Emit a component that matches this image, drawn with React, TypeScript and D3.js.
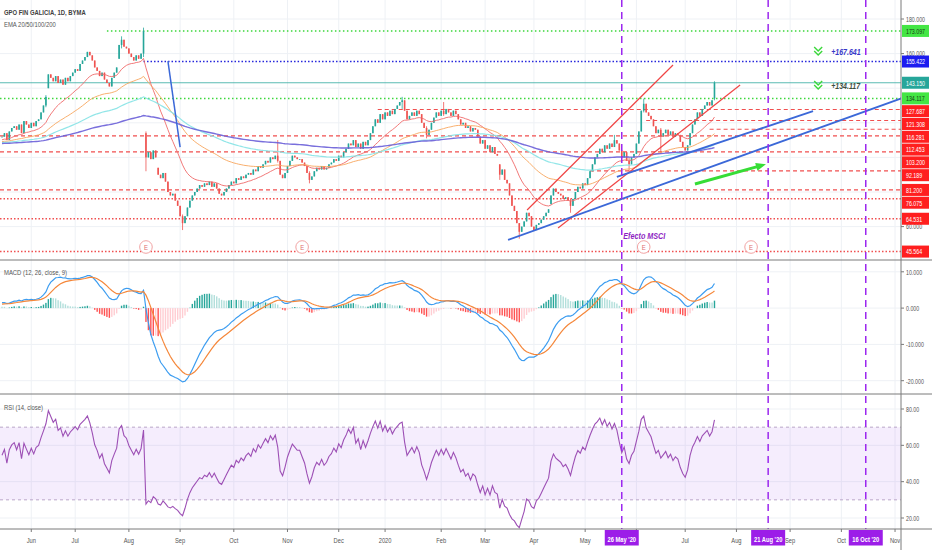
import React from 'react';
import * as d3 from 'd3';

// daily closes (one value per session)
const closesMay19 = [112, 114, 110, 115, 117, 118, 116, 119, 114, 121, 119, 117, 120, 118, 121, 122, 126, 130, 135];
const closesJunAug19 = [148, 146, 144, 147, 143, 145, 142, 146, 144, 147, 149, 151, 150, 154, 156, 158, 161, 159, 156,
  152, 150, 147, 149, 145, 143, 141, 146, 149, 152, 165, 168, 164, 163, 160, 158, 156, 159, 157, 160, 173];
const closesAugNov19 = [100, 103, 99, 104, 100, 90, 88, 91, 86, 80, 78, 79, 75, 72, 66, 62, 66, 71, 75, 78, 80,
  82, 84, 83, 85, 84, 86, 83, 85, 82, 79, 78, 80, 82, 84, 86, 85, 88, 87, 89, 88, 90,
  91, 90, 93, 92, 95, 94, 96, 98, 97, 100, 99, 101, 98, 90, 88, 91, 95, 98, 101, 100, 99];
const closesNov19Feb20 = [99, 97, 95, 91, 87, 89, 92, 94, 93, 95, 93, 94, 96, 97, 99, 98, 101, 100, 103,
  105, 108, 107, 110, 106, 108, 105, 109, 107, 110, 114, 118, 122, 120, 125, 122, 126, 124, 127, 125, 128, 130, 132,
  133, 127, 122, 124, 126, 124, 127, 125, 120, 117, 113, 116, 120, 123, 126, 124, 127, 125, 128, 126, 124, 127, 125,
  122, 119, 120, 117, 118, 115, 117, 116, 112, 108, 110, 105, 107, 103, 106, 102, 101];
const closesMarJul20 = [90, 93, 87, 85, 78, 72, 69, 62, 57, 60, 63, 68, 66, 60, 58, 61, 62, 64, 66, 68, 70,
  78, 82, 80, 79, 78, 76, 77, 75, 72, 76, 80, 83, 82, 85, 84, 88, 92, 96, 100, 102,
  105, 103, 107, 105, 108, 106, 110, 108, 104, 100, 103, 98, 96, 100, 102, 108, 115, 127, 131,
  126, 124, 122, 118, 114, 116, 112, 114, 116, 113, 115, 112, 114, 113, 109, 106, 104, 107, 114, 119,
  122, 126, 124, 128, 130, 132, 130, 133, 143.15];

// sessions that opened away from the prior close: [session, open]
const gapOpens: [number, number][] = [[19, 140], [48, 157], [59, 114], [64, 94], [204, 96], [225, 73], [292, 134]];
// visible wicks: [session, high, low]
const wicks: [number, number, number][] = [[18, 136, 129], [49, 170, 163], [58, 175, 158], [59, 115, 92], [74, 67, 58],
  [113, 110, 97], [126, 92, 85], [164, 135, 128], [174, 118, 111], [181, 132, 124], [204, 96, 87], [212, 62, 53],
  [233, 76, 68], [251, 113, 106], [257, 100, 92], [263, 134, 126], [270, 117, 102], [292, 144, 133]];

const monthTicks: [string, number][] = [['Jun', 12], ['Jul', 30], ['Aug', 52], ['Sep', 73], ['Oct', 95], ['Nov', 117],
  ['Dec', 138], ['2020', 157], ['Feb', 180], ['Mar', 198], ['Apr', 218], ['May', 239], ['Jun', 260], ['Jul', 280],
  ['Aug', 301], ['Sep', 323], ['Oct', 344], ['Nov', 366]];
const markedDates: [string, number][] = [["26 May '20", 254], ["21 Aug '20", 314], ["16 Oct '20", 354]];
const earnings = [59, 123, 263, 307];

const levelValues = [173.097, 155.422, 143.15, 134.117, 127.687, 121.308, 116.281, 112.453, 103.2, 92.189, 81.2, 76.075, 64.531, 45.564];
const levelKinds = ['target', 'stop', 'last', 'target', 'res', 'res', 'res', 'res', 'res', 'res', 'res', 'sup', 'sup', 'sup'];
const levelStarts = [43, 58, 0, 0, 154, 264, 290, 0, 0, 241, 0, 0, 0, 0];

const priceTicks = [180, 160, 140, 120, 100, 80, 60];
const macdTicks = [10, 0, -10, -20];
const rsiTicks = [80, 60, 40, 20];

// drawn trend lines: [session, price] -> [session, price]
const trendLines: { a: [number, number]; b: [number, number]; kind: string }[] = [
  { a: [68, 155.7], b: [73, 106], kind: 'blueThin' },
  { a: [215.2, 69.6], b: [275, 153.4], kind: 'red' },
  { a: [227.9, 59.2], b: [302.5, 141.8], kind: 'red' },
  { a: [207.4, 52.3], b: [372, 135.9], kind: 'blue' },
  { a: [252, 88.7], b: [332.4, 126.8], kind: 'blue' },
];
const arrowFrom: [number, number] = [284, 84.6];
const arrowTo: [number, number] = [311.9, 95.6];
const targetNotes: { i: number; v: number; text: string; color: string }[] = [
  { i: 334.5, v: 160.9, text: '+167.641', color: '#3838c8' },
  { i: 334.5, v: 141.3, text: '+134.117', color: '#3e4e3e' },
];

const FONT = '"Liberation Sans", Arial, sans-serif';
const AXIS_X = 901;

const levelStyle: Record<string, { stroke: string; dash?: string; w: number; box: string; txt: string; op: number }> = {
  target: { stroke: '#3cd83c', dash: '1.5 2.5', w: 1.5, box: '#44e644', txt: '#183818', op: 1 },
  stop: { stroke: '#2626dc', dash: '1.5 2', w: 1.5, box: '#1c1cf0', txt: '#ffffff', op: 1 },
  last: { stroke: '#26a69a', w: 1, box: '#26a69a', txt: '#ffffff', op: 0.75 },
  res: { stroke: '#f03c3c', dash: '4 3', w: 1.1, box: '#ff1f1f', txt: '#ffffff', op: 0.9 },
  sup: { stroke: '#f03c3c', dash: '1.5 2', w: 1.5, box: '#ff1f1f', txt: '#ffffff', op: 0.9 },
};

function ema(src: number[], period: number, seed: number) {
  const a = 2 / (period + 1);
  let p = seed;
  return src.map(v => (p = a * v + (1 - a) * p));
}

const T = ({ x, y, children, size = 8, sx = 0.7, anchor = 'start', fill = '#555', weight = 400, italic = false, dy }: any) => (
  <text transform={`translate(${x},${y}) scale(${sx},1)`} fontSize={size} textAnchor={anchor} fill={fill}
    fontWeight={weight} fontStyle={italic ? 'italic' : 'normal'} fontFamily={FONT} dy={dy}>{children}</text>
);

const App = () => {
  const closes = [...closesMay19, ...closesJunAug19, ...closesAugNov19, ...closesNov19Feb20, ...closesMarJul20];
  const gapMap = new Map(gapOpens);
  const wickMap = new Map(wicks.map(w => [w[0], w]));
  const candles = closes.map((c, i) => {
    const o = gapMap.get(i) ?? (i ? closes[i - 1] : c);
    const w = wickMap.get(i);
    return { o, c, h: Math.max(o, c, w ? w[1] : -Infinity), l: Math.min(o, c, w ? w[2] : Infinity) };
  });

  const x = d3.scaleLinear().domain([0, 366]).range([2, 2 + 366 * 2.44]);
  const yP = d3.scaleLinear().domain([60, 180]).range([226.6, 19]);
  const yM = d3.scaleLinear().domain([-20, 10]).range([380.7, 271.8]);
  const yR = d3.scaleLinear().domain([20, 80]).range([518, 409]);

  const emas = [
    { v: ema(closes, 20, 110), color: '#f06a6a', w: 1 },
    { v: ema(closes, 50, 109), color: '#f7a65e', w: 1 },
    { v: ema(closes, 100, 108.5), color: '#86e3e6', w: 1.2 },
    { v: ema(closes, 200, 108), color: '#6a5fd8', w: 1.4 },
  ];

  const fast = ema(closes, 12, 112);
  const slow = ema(closes, 26, 110.4);
  const macd = fast.map((f, i) => f - slow[i]);
  const signal = ema(macd, 9, 1.0);
  const hist = macd.map((m, i) => m - signal[i]);

  let ag = 1.2, al = 1.0;
  const rsi = closes.map((c, i) => {
    const ch = i ? c - closes[i - 1] : 0;
    ag = (ag * 13 + Math.max(ch, 0)) / 14;
    al = (al * 13 + Math.max(-ch, 0)) / 14;
    return 100 - 100 / (1 + ag / al);
  });

  const lineP = d3.line<number>().x((_, i) => x(i)).y(d => yP(d));
  const lineM = d3.line<number>().x((_, i) => x(i)).y(d => yM(d));
  const lineR = d3.line<number>().x((_, i) => x(i)).y(d => yR(d));

  // right-axis labels, pushed apart like the terminal does
  const labels = levelValues.map((v, k) => ({ v, kind: levelKinds[k], y: yP(v), ly: 0 })).sort((a, b) => a.y - b.y);
  let last = -Infinity;
  labels.forEach(l => { l.ly = Math.max(l.y, last + 12.8); last = l.ly; });
  // plain price ticks mostly hidden behind a coloured label are left out
  const shownTicks = priceTicks.filter(v => labels.every(l => Math.abs(l.ly - yP(v)) >= 7));
  const markerXs = markedDates.map(d => x(d[1]));
  const shownMonths = monthTicks.filter(([, i]) => markerXs.every(mx => Math.abs(mx - x(i)) > 18));

  const grid = '#eef1f5';
  const axisC = '#7a7a7a';
  const purple = '#9c27ef';

  const ang = Math.atan2(yP(arrowTo[1]) - yP(arrowFrom[1]), x(arrowTo[0]) - x(arrowFrom[0]));
  const ax = x(arrowTo[0]), ay = yP(arrowTo[1]);
  const head = [[ax + 3 * Math.cos(ang), ay + 3 * Math.sin(ang)],
    [ax - 7 * Math.cos(ang) + 4 * Math.sin(ang), ay - 7 * Math.sin(ang) - 4 * Math.cos(ang)],
    [ax - 7 * Math.cos(ang) - 4 * Math.sin(ang), ay - 7 * Math.sin(ang) + 4 * Math.cos(ang)]];

  return (
    <div style={{ position: 'absolute', left: 0, top: 0 }}>
      <style>{'body{margin:0}'}</style>
      <svg width={932} height={550} style={{ display: 'block', background: '#fff' }}>
        <defs>
          <clipPath id="cMain"><rect x={0} y={0} width={AXIS_X} height={260} /></clipPath>
          <clipPath id="cMacd"><rect x={0} y={260} width={AXIS_X} height={134} /></clipPath>
          <clipPath id="cRsi"><rect x={0} y={394} width={AXIS_X} height={135} /></clipPath>
        </defs>

        {/* grid */}
        {monthTicks.map(([, i], k) => <line key={'vg' + k} x1={x(i)} x2={x(i)} y1={0} y2={529} stroke={grid} />)}
        {priceTicks.map(v => <line key={'pg' + v} x1={0} x2={AXIS_X} y1={yP(v)} y2={yP(v)} stroke={grid} />)}
        {macdTicks.map(v => <line key={'mg' + v} x1={0} x2={AXIS_X} y1={yM(v)} y2={yM(v)} stroke={grid} />)}
        {rsiTicks.map(v => <line key={'rg' + v} x1={0} x2={AXIS_X} y1={yR(v)} y2={yR(v)} stroke={grid} />)}

        {/* main panel */}
        <g clipPath="url(#cMain)">
          {levelValues.map((v, k) => {
            const s = levelStyle[levelKinds[k]];
            return <line key={'lv' + k} x1={levelStarts[k] ? x(levelStarts[k]) : 0} x2={AXIS_X} y1={yP(v)} y2={yP(v)}
              stroke={s.stroke} strokeWidth={s.w} strokeDasharray={s.dash} opacity={s.op} />;
          })}
          {candles.map((d, i) => {
            const col = d.c >= d.o ? '#26a69a' : '#ef5350';
            const top = yP(Math.max(d.o, d.c)), bot = yP(Math.min(d.o, d.c));
            return (
              <g key={'c' + i}>
                <line x1={x(i)} x2={x(i)} y1={yP(d.h)} y2={yP(d.l)} stroke={col} strokeWidth={0.8} />
                <rect x={x(i) - 0.8} y={top} width={1.6} height={Math.max(bot - top, 0.8)} fill={col} />
              </g>
            );
          })}
          {emas.map((e, k) => <path key={'ema' + k} d={lineP(e.v) || ''} fill="none" stroke={e.color} strokeWidth={e.w} opacity={0.9} />)}
          {trendLines.map((t, k) => (
            <line key={'tl' + k} x1={x(t.a[0])} y1={yP(t.a[1])} x2={x(t.b[0])} y2={yP(t.b[1])}
              stroke={t.kind === 'red' ? '#f04545' : '#3b68d8'} strokeWidth={t.kind === 'blue' ? 1.8 : t.kind === 'red' ? 1.2 : 1.5} />
          ))}
          <line x1={x(arrowFrom[0])} y1={yP(arrowFrom[1])} x2={ax - 4 * Math.cos(ang)} y2={ay - 4 * Math.sin(ang)} stroke="#36dd36" strokeWidth={3} />
          <polygon points={head.map(p => p.join(',')).join(' ')} fill="#36dd36" />
          {targetNotes.map((n, k) => {
            const cx = x(n.i), cy = yP(n.v);
            return (
              <g key={'tn' + k}>
                <polyline points={`${cx - 4},${cy - 5} ${cx},${cy - 1} ${cx + 4},${cy - 5}`} fill="none" stroke="#3cd83c" strokeWidth={1.4} />
                <polyline points={`${cx - 4},${cy - 1} ${cx},${cy + 3} ${cx + 4},${cy - 1}`} fill="none" stroke="#3cd83c" strokeWidth={1.4} />
                <T x={cx + 13} y={cy + 3} size={9} sx={0.78} fill={n.color} italic weight={600}>{n.text}</T>
              </g>
            );
          })}
          {earnings.map(i => (
            <g key={'e' + i}>
              <circle cx={x(i)} cy={247} r={6.3} fill="#fff" stroke="#f2a3a3" strokeWidth={1} />
              <T x={x(i)} y={249.5} size={7} sx={0.85} anchor="middle" fill="#e06c6c">E</T>
            </g>
          ))}
          <T x={x(markedDates[0][1]) + 1.5} y={238.5} size={9.5} sx={0.76} fill="#8e1fc2" italic weight={700}>Efecto MSCI</T>
        </g>
        <T x={4} y={15} size={8} sx={0.74} fill="#404040" weight={600}>GPO FIN GALICIA, 1D, BYMA</T>
        <T x={4} y={27} size={8} sx={0.74} fill="#555">EMA 20/50/100/200</T>

        {/* MACD */}
        <g clipPath="url(#cMacd)">
          {hist.map((h, i) => {
            const prev = i ? hist[i - 1] : h;
            const col = h >= 0 ? (prev < h ? '#26a69a' : '#b2dfdb') : (prev < h ? '#ffcdd2' : '#ff5252');
            const y0 = yM(0), y1 = yM(h);
            return <rect key={'h' + i} x={x(i) - 0.7} y={Math.min(y0, y1)} width={1.4} height={Math.abs(y1 - y0)} fill={col} />;
          })}
          <path d={lineM(macd) || ''} fill="none" stroke="#3d9df0" strokeWidth={1.2} />
          <path d={lineM(signal) || ''} fill="none" stroke="#f5873a" strokeWidth={1.2} />
        </g>
        <T x={4} y={275} size={8} sx={0.74} fill="#555">MACD (12, 26, close, 9)</T>

        {/* RSI */}
        <g clipPath="url(#cRsi)">
          <rect x={0} y={yR(70)} width={AXIS_X} height={yR(30) - yR(70)} fill="rgba(160, 90, 235, 0.11)" />
          <line x1={0} x2={AXIS_X} y1={yR(70)} y2={yR(70)} stroke="#b9a6c8" strokeDasharray="3 3" />
          <line x1={0} x2={AXIS_X} y1={yR(30)} y2={yR(30)} stroke="#b9a6c8" strokeDasharray="3 3" />
          <path d={lineR(rsi) || ''} fill="none" stroke="#9d50b5" strokeWidth={1.1} />
        </g>
        <T x={4} y={410} size={8} sx={0.74} fill="#555">RSI (14, close)</T>

        {/* marked dates */}
        {markedDates.map(([, i]) => (
          <line key={'md' + i} x1={x(i)} x2={x(i)} y1={0} y2={529} stroke={purple} strokeWidth={1.5} strokeDasharray="7 5" />
        ))}

        {/* frames */}
        <line x1={0} x2={932} y1={260} y2={260} stroke={axisC} />
        <line x1={0} x2={932} y1={394} y2={394} stroke={axisC} />
        <line x1={0} x2={932} y1={529} y2={529} stroke={axisC} />
        <line x1={AXIS_X} x2={AXIS_X} y1={0} y2={550} stroke={axisC} />

        {/* right axis */}
        {shownTicks.map(v => (
          <g key={'pt' + v}>
            <line x1={AXIS_X} x2={AXIS_X + 3} y1={yP(v)} y2={yP(v)} stroke={axisC} />
            <T x={906} y={yP(v)} dy="0.35em" size={8} sx={0.66} fill="#555">{v.toFixed(3)}</T>
          </g>
        ))}
        {labels.map((l, k) => {
          const s = levelStyle[l.kind];
          return (
            <g key={'lb' + k}>
              <rect x={AXIS_X + 1} y={l.ly - 6} width={27} height={12} fill={s.box} />
              <T x={906} y={l.ly} dy="0.35em" size={8} sx={0.66} fill={s.txt}>{l.v.toFixed(3)}</T>
            </g>
          );
        })}
        {macdTicks.map(v => (
          <g key={'mt' + v}>
            <line x1={AXIS_X} x2={AXIS_X + 3} y1={yM(v)} y2={yM(v)} stroke={axisC} />
            <T x={906} y={yM(v)} dy="0.35em" size={8} sx={0.66} fill="#555">{v.toFixed(3)}</T>
          </g>
        ))}
        {rsiTicks.map(v => (
          <g key={'rt' + v}>
            <line x1={AXIS_X} x2={AXIS_X + 3} y1={yR(v)} y2={yR(v)} stroke={axisC} />
            <T x={906} y={yR(v)} dy="0.35em" size={8} sx={0.66} fill="#555">{v.toFixed(2)}</T>
          </g>
        ))}

        {/* bottom axis */}
        {monthTicks.map(([, i], k) => (
          <line key={'bt' + k} x1={x(i)} x2={x(i)} y1={529} y2={532} stroke={axisC} />
        ))}
        {shownMonths.map(([lab, i], k) => (
          <T key={'ml' + k} x={x(i)} y={543} size={8} sx={0.72} anchor="middle" fill="#555">{lab}</T>
        ))}
        {markedDates.map(([lab, i]) => (
          <g key={'mb' + i}>
            <rect x={x(i) - 17} y={530} width={34} height={15.5} fill="#9c1de8" />
            <T x={x(i)} y={541.5} size={8} sx={0.72} anchor="middle" fill="#fff" weight={600}>{lab}</T>
          </g>
        ))}
      </svg>
    </div>
  );
};

export default App;
